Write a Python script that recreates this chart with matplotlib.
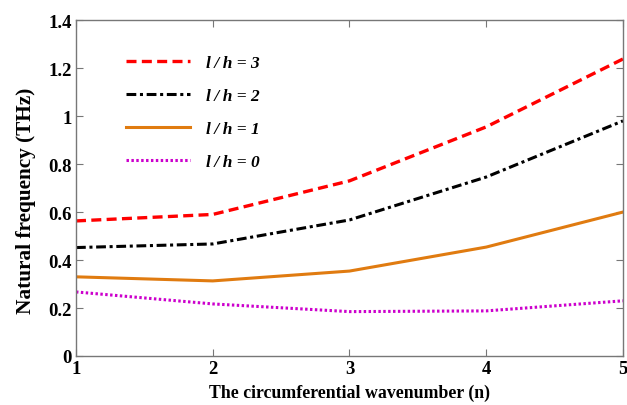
import numpy as np
import matplotlib.pyplot as plt

# circumferential wavenumber and natural frequencies (THz) for each l/h
n = [1, 2, 3, 4, 5]
freq_lh3 = [0.563, 0.590, 0.730, 0.955, 1.238]
freq_lh2 = [0.452, 0.467, 0.567, 0.746, 0.980]
freq_lh1 = [0.330, 0.313, 0.354, 0.454, 0.600]
freq_lh0 = [0.267, 0.217, 0.185, 0.188, 0.230]
labels = ['l\u2009/\u2009h = 3', 'l\u2009/\u2009h = 2', 'l\u2009/\u2009h = 1', 'l\u2009/\u2009h = 0']

plt.rcParams['font.family'] = ['Liberation Serif', 'DejaVu Serif']

fig = plt.figure(figsize=(6.27, 4.06), dpi=100)
ax = fig.add_axes([0.1212, 0.1207, 0.8724, 0.8273])

ax.plot(n, freq_lh3, color='#ff0000', linestyle=(0, (3, 1.6)), linewidth=2.4, label=labels[0])
ax.plot(n, freq_lh2, color='black', linestyle=(0, (3.2, 1.2, 1, 1.2)), linewidth=2.2, label=labels[1])
ax.plot(n, freq_lh1, color='#e07b10', linestyle='-', linewidth=2.2, label=labels[2])
ax.plot(n, freq_lh0, color='#cc00cc', linestyle=(0, (0.8, 0.8)), linewidth=2.2, label=labels[3])

ax.set_xlim(1, 5)
ax.set_ylim(0, 1.4)
ax.set_xticks([1, 2, 3, 4, 5])
ax.set_yticks([0, 0.2, 0.4, 0.6, 0.8, 1.0, 1.2, 1.4])
ax.set_yticklabels(['0', '0.2', '0.4', '0.6', '0.8', '1', '1.2', '1.4'])
ax.tick_params(direction='in', top=True, right=True, length=5, color='#777777',
               labelsize=13.5, pad=3)
for lab in ax.get_xticklabels() + ax.get_yticklabels():
    lab.set_fontweight('bold')
for sp in ax.spines.values():
    sp.set_color('#777777')
    sp.set_linewidth(1.0)

ax.set_xlabel('The circumferential wavenumber (n)', fontsize=12.8, fontweight='bold', labelpad=5)
ax.set_ylabel('Natural frequency (THz)', fontsize=15.3, fontweight='bold')
ax.yaxis.set_label_coords(-0.073, 0.464)

leg = ax.legend(loc='upper left', bbox_to_anchor=(0.063, 0.944), frameon=False,
                prop={'family': 'Liberation Serif', 'style': 'italic', 'weight': 'bold', 'size': 12.5},
                handlelength=3.68, handletextpad=0.9, labelspacing=0.97)

fig.savefig('out.png', dpi=100)
